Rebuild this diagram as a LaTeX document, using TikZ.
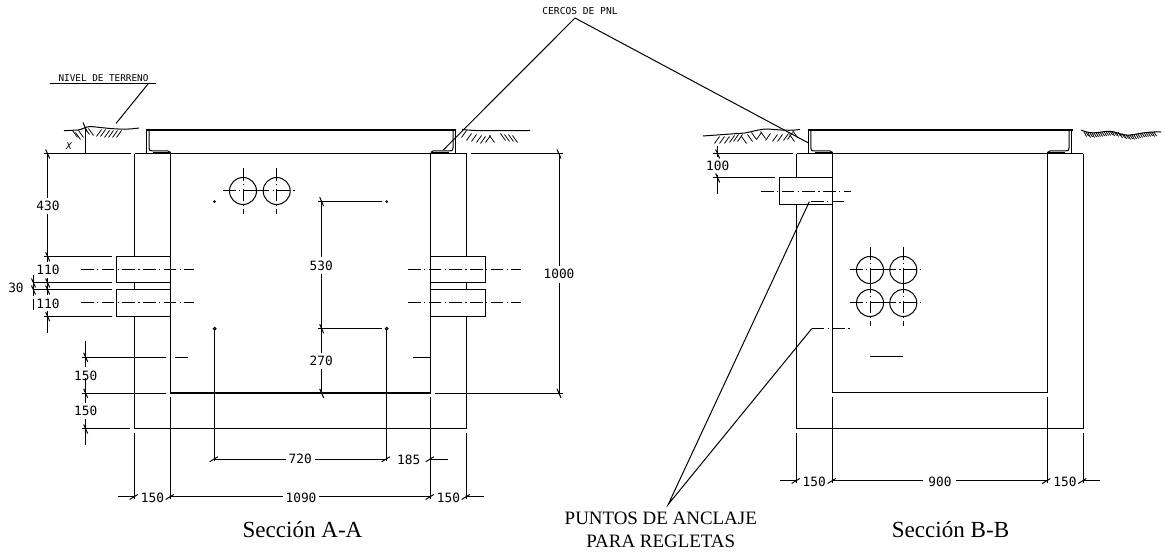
\documentclass[tikz,border=0pt]{standalone}
\usepackage{fontspec}
\setmainfont{Liberation Serif}
\newfontfamily\cadfont{DejaVu Sans Mono}
\newcommand{\vtk}[2]{\draw[ln] (#1-2,#2-4.5) -- (#1+2,#2+4.5);}
\newcommand{\htk}[2]{\draw[ln] (#1-5,#2+2.5) -- (#1+3,#2-2.5);}
\newcommand{\borehole}[2]{\draw[ln] (#1,#2) circle (13.5);
 \draw[ln,chain] (#1-20,#2) -- (#1+20,#2);
 \draw[ln,chain] (#1,#2-23) -- (#1,#2+23);}
\newcommand{\hatchR}[2]{\draw[thin line] (#1-2.5,#2+3.5) -- (#1+2.5,#2-3.5);}
\newcommand{\hatchL}[2]{\draw[thin line] (#1-2.5,#2-3.5) -- (#1+2.5,#2+3.5);}
\tikzset{
 ln/.style={line width=0.75pt,black},
 thin line/.style={line width=0.6pt,black},
 heavy/.style={line width=1.6pt,black},
 floorline/.style={line width=1pt,black},
 chain/.style={dash pattern=on 9.5pt off 2.5pt on 1pt off 2.5pt},
 dimtext/.style={font=\cadfont\fontsize{9.6}{10}\selectfont,inner sep=0pt},
 notetext/.style={font=\cadfont\fontsize{7}{8}\selectfont,inner sep=0pt},
 title/.style={font=\fontsize{17.3}{19}\selectfont,inner sep=0pt},
 anchortext/.style={font=\fontsize{14.2}{17.2}\selectfont,inner sep=0pt,align=center},
 pin/.style={fill=black,draw=none},
}
\begin{document}
\begin{tikzpicture}[x=0.75pt,y=-0.75pt]
\useasboundingbox (0,0) rectangle (1165,552);
% ===== Section A-A =====
\draw[ln] (134.7,154) -- (466.7,154);
\draw[ln] (134.7,154) -- (134.7,256.7) (134.7,283) -- (134.7,290) (134.7,316.7) -- (134.7,429);
\draw[ln] (466.7,154) -- (466.7,256.7) (466.7,283) -- (466.7,290) (466.7,316.7) -- (466.7,429);
\draw[ln] (170.7,154) -- (170.7,357);
\draw[floorline] (170.7,357) -- (170.7,393) -- (430.7,393) -- (430.7,357);
\draw[ln] (430.7,154) -- (430.7,357);
\draw[ln] (134.7,429) -- (466.7,429);
\draw[ln] (116.5,256.7) rectangle (170.7,283);
\draw[ln] (116.5,290) rectangle (170.7,316.7);
\draw[ln] (430.7,256.7) rectangle (485,283);
\draw[ln] (430.7,290) rectangle (485,316.7);
% frame
\draw[heavy] (145.7,130) -- (455.7,130);
\draw[ln] (146.7,130) -- (146.7,154);
\draw[ln] (149,131) -- (149,148) .. controls (149,150.5) and (150,151) .. (153,151) -- (168,151) -- (170.7,152.5);
\draw[floorline] (153,152.5) -- (170.7,152.5);
\draw[ln] (455.7,130) -- (455.7,154);
\draw[ln] (453,131) -- (453,148) .. controls (453,150.5) and (452,151) .. (449,151) -- (433,151) -- (430.7,152.5);
\draw[floorline] (449,152.5) -- (431,152.5);
% dash-dot centre lines
\draw[ln,chain] (81,270) -- (194,270);
\draw[ln,chain] (81,303) -- (194,303);
\draw[ln,chain] (408,270) -- (521,270);
\draw[ln,chain] (408,303) -- (521,303);
% holes and pins
\borehole{243}{191}
\borehole{276.7}{191}
\fill[pin] (214.5,201.7) circle (1.5);
\fill[pin] (386.7,201.7) circle (1.5);
\draw[ln] (214.7,328.7) circle (1.3);
\draw[ln] (386.7,328.7) circle (1.3);
% extension lines
\draw[ln] (44,154) -- (131,154);
\draw[ln] (44,256.7) -- (112,256.7);
\draw[ln] (33,283) -- (112,283);
\draw[ln] (33,290) -- (112,290);
\draw[ln] (44,316.7) -- (112,316.7);
\draw[ln] (82,357.3) -- (166,357.3) (175,357.3) -- (188,357.3);
\draw[ln] (82,393.3) -- (166,393.3);
\draw[ln] (82,429) -- (130,429);
\draw[ln] (413,357.3) -- (430.7,357.3);
\draw[ln] (435,393.3) -- (563,393.3);
\draw[ln] (471,154) -- (563,154);
\draw[ln] (318,201.7) -- (382,201.7);
\draw[ln] (318,328.7) -- (382,328.7);
% left dimension chain
\draw[ln] (47.7,154) -- (47.7,198) (47.7,214) -- (47.7,256.7);
\draw[ln] (47.7,256.7) -- (47.7,262) (47.7,278) -- (47.7,295) (47.7,311) -- (47.7,333);
\draw[ln] (33.5,275) -- (33.5,296) (33.5,299) -- (33.5,310);
\foreach \yy in {154,256.7,283,290,316.7} {\vtk{47.7}{\yy}}
\foreach \yy in {283,290} {\vtk{33.5}{\yy}}
\node[dimtext] (d430) at (48,205.7) {430};
\node[dimtext] (d110a) at (48,270) {110};
\node[dimtext] (d110b) at (48,303.5) {110};
\node[dimtext] (d30) at (16,288) {30};
% 150/150
\draw[ln] (85.7,341) -- (85.7,367) (85.7,378) -- (85.7,403) (85.7,419) -- (85.7,445);
\foreach \yy in {357.3,393.3,429} {\vtk{85.7}{\yy}}
\node[dimtext] (d150a) at (85.7,375.5) {150};
\node[dimtext] (d150b) at (85.7,411) {150};
% inner dims
\draw[ln] (321.7,201.7) -- (321.7,257) (321.7,274) -- (321.7,328.7) -- (321.7,353) (321.7,369) -- (321.7,393.3);
\foreach \yy in {201.7,328.7,393.3} {\vtk{321.7}{\yy}}
\node[dimtext] (d530) at (321.3,266) {530};
\node[dimtext] (d270) at (321.3,361) {270};
% 1000
\draw[ln] (559,154) -- (559,266) (559,283) -- (559,393.3);
\vtk{559}{154}\vtk{559}{393.3}
\node[dimtext] (d1000) at (559,274) {1000};
% bottom verticals
\draw[ln] (134.7,433) -- (134.7,499);
\draw[ln] (170.7,397) -- (170.7,499);
\draw[floorline] (430.7,397) -- (430.7,459.3);
\draw[ln] (430.7,459.3) -- (430.7,499);
\draw[ln] (466.7,433) -- (466.7,499);
\draw[ln] (214.7,330) -- (214.7,461);
\draw[ln] (386.7,330) -- (386.7,461);
% bottom dims
\draw[ln] (214.7,459.3) -- (286,459.3) (315,459.3) -- (386.7,459.3);
\draw[ln] (430.7,459.3) -- (447.6,459.3);
\htk{214.7}{459.3}\htk{386.7}{459.3}\htk{430.7}{459.3}
\node[dimtext] (d720) at (300.3,459.3) {720};
\node[dimtext] (d185) at (408.7,459.8) {185};
\draw[ln] (118,497) -- (134.7,497);
\draw[ln] (170.7,497) -- (283,497) (319,497) -- (430.7,497);
\draw[ln] (466.7,497) -- (483.5,497);
\htk{134.7}{497}\htk{170.7}{497}\htk{430.7}{497}\htk{466.7}{497}
\node[dimtext] (d150c) at (152.5,497.5) {150};
\node[dimtext] (d1090) at (301,497.5) {1090};
\node[dimtext] (d150d) at (448.5,497.5) {150};
\node[title] (titleA) at (302.5,530) {Sección A-A};
% ground, left of A
\draw[ln] (64,130.7) -- (78,130) .. controls (82,129.5) and (85,127) .. (90,126.5) .. controls (100,127) and (120,131) .. (139,128);
\draw[ln] (85,127) -- (85,154);
\vtk{85}{127}
\foreach \xx/\yy in {75/134,78/136,81/134} {\hatchL{\xx}{\yy}}
\foreach \xx/\yy in {87/131,91/132} {\hatchL{\xx}{\yy}}
\foreach \xx/\yy in {99/133,103/133,107/134,111/134,115/134,119/134} {\hatchR{\xx}{\yy}}
\node[notetext,font=\cadfont\itshape\fontsize{7}{8}\selectfont] (xmark) at (69,146.5) {X};
\node[notetext] (nivel) at (103.5,78) {NIVEL DE TERRENO};
\draw[ln] (49.5,84) -- (155.5,84);
\coordinate (nivelroot) at (148,84);
\coordinate (niveltip) at (116,123.5);
\draw[ln] (nivelroot) -- (niveltip);
% ground, right of A
\draw[ln] (462,129.3) .. controls (475,131.5) and (500,130.5) .. (530,130.5);
\foreach \xx/\yy in {464/134,469/137,474/138,479/139,483/140} {\hatchR{\xx}{\yy}}
\hatchR{488}{139}
\foreach \xx/\yy in {492/139,503/137,507/138,511/138,515/139} {\hatchL{\xx}{\yy}}
% leaders
\node[notetext,font=\cadfont\fontsize{7.2}{8}\selectfont] (cercos) at (580,11) {CERCOS DE PNL};
\coordinate (apex) at (575,18);
\coordinate (cercoA) at (443.3,150);
\coordinate (cercoB) at (808,142.7);
\draw[ln] (cercoA) -- (apex) -- (cercoB);
% ===== Section B-B =====
\draw[ln] (796.7,154) -- (1083.3,154);
\draw[ln] (796.7,154) -- (796.7,178) (796.7,204.3) -- (796.7,429);
\draw[ln] (832.7,154) -- (832.7,393) -- (1047.3,393) -- (1047.3,154);
\draw[ln] (1083.3,154) -- (1083.3,429);
\draw[ln] (796.7,429) -- (1083.3,429);
\draw[ln] (779,178) rectangle (832.7,204.3);
\draw[heavy] (807.5,130) -- (1072.7,130);
\draw[ln] (808.3,130) -- (808.3,154);
\draw[ln] (810.8,131) -- (810.8,148) .. controls (810.8,150.5) and (811.8,151) .. (815,151) -- (830,151) -- (832.7,152.5);
\draw[floorline] (815,152.5) -- (832.7,152.5);
\draw[ln] (1071.5,130) -- (1071.5,154);
\draw[ln] (1069,131) -- (1069,148) .. controls (1069,150.5) and (1068,151) .. (1065,151) -- (1050,151) -- (1047.3,152.5);
\draw[floorline] (1065,152.5) -- (1047.3,152.5);
\draw[ln,chain] (761,191.7) -- (851,191.7);
\draw[ln,chain] (811,201.7) -- (847,201.7);
\draw[ln,chain] (811.7,328.7) -- (853,328.7);
\draw[ln] (870,357) -- (902.7,357);
\borehole{870}{270}
\borehole{903.3}{270}
\borehole{870}{303}
\borehole{903.3}{303}
% dim 100
\draw[ln] (713,154) -- (793,154);
\draw[ln] (713,178) -- (775,178);
\draw[ln] (717.7,146) -- (717.7,157) (717.7,175) -- (717.7,194);
\vtk{717.7}{154}\vtk{717.7}{178}
\node[dimtext] (d100) at (717.7,166) {100};
% bottom B
\draw[ln] (796.7,433) -- (796.7,483);
\draw[ln] (832.7,397) -- (832.7,483);
\draw[ln] (1047.3,397) -- (1047.3,483);
\draw[ln] (1083.3,433) -- (1083.3,483);
\draw[ln] (780,481) -- (796.7,481);
\draw[ln] (832.7,481) -- (923,481) (956,481) -- (1047.3,481);
\draw[ln] (1083.3,481) -- (1100,481);
\htk{796.7}{481}\htk{832.7}{481}\htk{1047.3}{481}\htk{1083.3}{481}
\node[dimtext] (d150e) at (814.3,481.5) {150};
\node[dimtext] (d900) at (940,481.5) {900};
\node[dimtext] (d150f) at (1065,481.5) {150};
\node[title] (titleB) at (950.5,530) {Sección B-B};
% ground, left of B
\draw[ln] (703,136) -- (745,133) .. controls (755,131) and (760,129) .. (768,129) .. controls (780,130) and (790,131) .. (800,129.5);
\foreach \xx/\yy in {717/140,722/140,727/140,732/139,736/138,740/138,759/136,768/137,775/138,780/138,786/137,790/136} {\hatchR{\xx}{\yy}}
\foreach \xx/\yy in {744/140,750/138,754/136,763/135,795/134,792/138} {\hatchL{\xx}{\yy}}
% ground, right of B
\draw[ln] (1081,130) .. controls (1090,134) and (1095,133) .. (1105,131.5) .. controls (1115,130) and (1120,136) .. (1130,135) .. controls (1140,134) and (1145,131.5) .. (1161,132);
\foreach \xx/\yy in {1084/132,1088/133,1092/133,1096/132.5,1100/132,1104/131.5,1108/131,1112/131.5,1116/132,1120/133.5,1124/134.5,1128/135,1132/135,1136/134,1140/133,1144/132.5,1148/132,1152/132} {\draw[line width=0.6pt,black] (\xx,\yy) -- (\xx+2.5,\yy+4.5);\draw[line width=0.6pt,black] (\xx+2,\yy) -- (\xx+4.5,\yy+4);}
% anchor leaders
\node[anchortext] (puntos) at (660.8,529.5) {PUNTOS DE ANCLAJE\\PARA REGLETAS};
\coordinate (anchorTip) at (668.3,504.3);
\coordinate (anchorA) at (809.3,201.7);
\coordinate (anchorB) at (811.7,328.7);
\draw[ln] (anchorA) -- (anchorTip) -- (anchorB);
\end{tikzpicture}
\end{document}
